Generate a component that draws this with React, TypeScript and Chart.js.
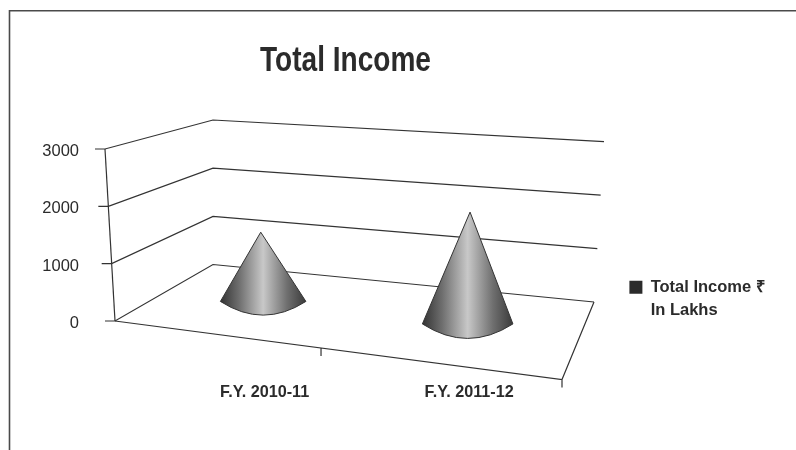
import React, { useEffect, useRef } from "react";
import { Chart, registerables } from "chart.js";

Chart.register(...registerables);

const chartTitle = "Total Income";
const categories = ["F.Y. 2010-11", "F.Y. 2011-12"];
const seriesName = ["Total Income ₹", "In Lakhs"];
const seriesValues = [1350, 2180];
const yTicks = [0, 1000, 2000, 3000];

const FONT = "'Liberation Sans', Arial, sans-serif";
const INK = "#2b2b2b";
const LINE = "#333333";

// 3D box projection, in pixels relative to the chart area
const wall = {
  axisSkew: -10 / 172, // the y axis leans: top is further left
  backX: 213,
  backY0: 264.5,
  backSpan: 144.5,
  rightX0: 594,
  rightX1: 604,
  rightY0: 302,
  rightSpan: 160.3,
  frontLeftX: 115,
  frontRightX: 562,
  frontRightY: 379.5,
};
const legendShift = 48;

const boxPlugin = {
  id: "box3d",
  afterLayout(chart: any) {
    chart.legend.left += legendShift;
    chart.legend.right += legendShift;
  },
  beforeDraw(chart: any) {
    const { ctx } = chart;
    ctx.save();
    ctx.strokeStyle = "#4a4a4a";
    ctx.lineWidth = 1.6;
    ctx.beginPath();
    ctx.moveTo(9.5, 450);
    ctx.lineTo(9.5, 10.8);
    ctx.lineTo(796, 10.8);
    ctx.stroke();
    ctx.restore();
  },
  beforeDatasetsDraw(chart: any) {
    const { ctx, scales } = chart;
    const y = scales.y;
    const zero = y.getPixelForValue(0);
    const axisX = (py: number) => wall.frontLeftX + (zero - py) * wall.axisSkew;
    ctx.save();
    ctx.strokeStyle = LINE;
    ctx.lineWidth = 1.2;
    const top = y.getPixelForValue(y.max);
    ctx.beginPath();
    ctx.moveTo(axisX(top), top);
    ctx.lineTo(axisX(zero), zero);
    ctx.stroke();
    y.ticks.forEach((t: any) => {
      const f = t.value / y.max;
      const py = y.getPixelForValue(t.value);
      const ax = axisX(py);
      ctx.beginPath();
      ctx.moveTo(ax - 10, py);
      ctx.lineTo(ax, py);
      ctx.lineTo(wall.backX, wall.backY0 - wall.backSpan * f);
      ctx.lineTo(wall.rightX0 + (wall.rightX1 - wall.rightX0) * f, wall.rightY0 - wall.rightSpan * f);
      ctx.stroke();
    });
    // floor front edge and ticks
    ctx.beginPath();
    ctx.moveTo(wall.frontLeftX, zero);
    ctx.lineTo(wall.frontRightX, wall.frontRightY);
    ctx.lineTo(wall.rightX0, wall.rightY0);
    ctx.moveTo(wall.frontRightX, wall.frontRightY);
    ctx.lineTo(wall.frontRightX, wall.frontRightY + 8);
    const mid = wall.frontLeftX + (wall.frontRightX - wall.frontLeftX) * 0.4609;
    const midY = zero + (wall.frontRightY - zero) * 0.4609;
    ctx.moveTo(mid, midY);
    ctx.lineTo(mid, midY + 8);
    ctx.stroke();
    ctx.restore();
  },
  beforeDatasetDraw(chart: any, args: any) {
    const { ctx, chartArea } = chart;
    const meta = args.meta;
    const midX = (chartArea.left + chartArea.right) / 2;
    meta.data.forEach((bar: any) => {
      const depth = 1 + (bar.x - midX) * 0.00028;
      const half = (bar.width * depth) / 2;
      const cx = bar.x - 1.5;
      const baseY = chartArea.bottom - 30.8 + (bar.x - chartArea.left) * 0.11;
      const apexY = baseY + (bar.y - bar.base) * 0.895;
      const apexX = cx + (bar.x - midX) * 0.0235;
      const bulge = half * 2 * 0.16;
      const grad = ctx.createLinearGradient(cx - half, 0, cx + half, 0);
      grad.addColorStop(0, "#333333");
      grad.addColorStop(0.22, "#6f6f6f");
      grad.addColorStop(0.5, "#c8c8c8");
      grad.addColorStop(0.78, "#6f6f6f");
      grad.addColorStop(1, "#3a3a3a");
      ctx.save();
      ctx.beginPath();
      ctx.moveTo(apexX, apexY);
      ctx.lineTo(cx + half, baseY);
      ctx.quadraticCurveTo(cx, baseY + bulge * 2, cx - half, baseY);
      ctx.closePath();
      ctx.fillStyle = grad;
      ctx.fill();
      ctx.strokeStyle = LINE;
      ctx.lineWidth = 1;
      ctx.stroke();
      ctx.restore();
    });
    return false;
  },
  afterDraw(chart: any) {
    const { ctx } = chart;
    ctx.save();
    ctx.font = `bold 35.5px ${FONT}`;
    ctx.fillStyle = INK;
    ctx.textBaseline = "alphabetic";
    ctx.textAlign = "center";
    ctx.translate(345.5, 70.7);
    ctx.scale(0.79, 1);
    ctx.fillText(chartTitle, 0, 0);
    ctx.restore();
  },
};

export default function App() {
  const ref = useRef<HTMLCanvasElement>(null);
  useEffect(() => {
    const chart = new Chart(ref.current!, {
      type: "bar",
      data: {
        labels: categories,
        datasets: [
          {
            label: seriesName as any,
            data: seriesValues,
            backgroundColor: INK,
            borderWidth: 0,
            barThickness: 88,
          },
        ],
      },
      options: {
        responsive: false,
        animation: false,
        layout: { padding: { top: 149, right: 0, bottom: -5, left: 0 } },
        plugins: {
          title: { display: false },
          tooltip: { enabled: false },
          legend: {
            position: "right",
            labels: {
              boxWidth: 13,
              boxHeight: 13,
              color: INK,
              font: { family: FONT, size: 16.5, weight: "bold", lineHeight: 1.4 },
            },
          },
        },
        scales: {
          x: {
            grid: { display: false, drawTicks: false },
            border: { display: false },
            ticks: {
              color: INK,
              padding: 61.5,
              maxRotation: 0,
              font: { family: FONT, size: 16.2, weight: "bold" },
            },
            afterFit(s: any) {
              s.height = 134;
              s.paddingLeft = 0;
              s.paddingRight = 224.6;
            },
          },
          y: {
            min: 0,
            max: 3000,
            afterBuildTicks(s: any) {
              s.ticks = yTicks.map((value) => ({ value }));
            },
            grid: { display: false, drawTicks: false },
            border: { display: false },
            ticks: {
              color: INK,
              padding: 83.4,
              labelOffset: 2.5,
              font: { family: FONT, size: 16.5 },
              callback: (v: any) => String(v),
            },
            afterFit(s: any) {
              s.width = 162.4;
              s.paddingTop = 0;
              s.paddingBottom = 0;
            },
          },
        },
      } as any,
      plugins: [boxPlugin],
    });
    return () => chart.destroy();
  }, []);
  return (
    <div style={{ position: "fixed", left: 0, top: 0, width: 796, height: 450, background: "#fff" }}>
      <canvas ref={ref} width={796} height={450} style={{ display: "block" }} />
    </div>
  );
}
